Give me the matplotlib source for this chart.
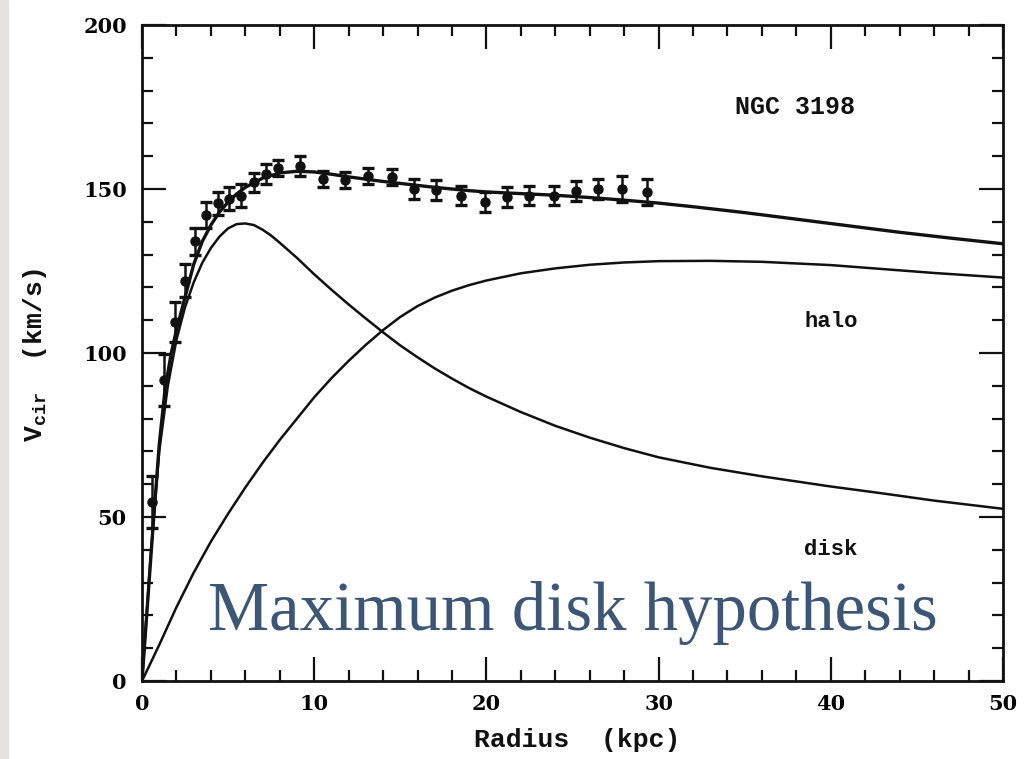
import numpy as np
import matplotlib.pyplot as plt
from matplotlib.patches import Rectangle

plt.rcParams['mathtext.fontset'] = 'custom'
plt.rcParams['mathtext.rm'] = 'Liberation Mono:bold'
plt.rcParams['mathtext.bf'] = 'Liberation Mono:bold'

# observed rotation curve (kpc, km/s)
r_obs = [0.58, 1.3, 1.92, 2.5, 3.1, 3.7, 4.4, 5.05, 5.75, 6.5, 7.2, 7.9,
         9.2, 10.5, 11.8, 13.1, 14.5, 15.8, 17.1, 18.5, 19.9, 21.2, 22.5,
         23.9, 25.2, 26.5, 27.9, 29.3]
v_obs = [54.6, 91.8, 109.5, 122.0, 134.0, 142.0, 145.7, 147.0, 148.0, 152.0,
         154.6, 156.4, 157.0, 153.0, 152.7, 154.0, 153.7, 150.0, 149.7, 148.0,
         146.0, 147.5, 148.0, 148.0, 149.4, 150.0, 150.0, 149.0]
e_obs = [8, 8, 6, 5, 4, 4, 3.5, 3.5, 3.5, 3, 3, 2.5, 3, 2.5, 2.5, 2.5, 2.5,
         3, 3, 3, 3, 3, 3, 3, 3, 3, 4, 4]

# model curves
r_tot = [0, 0.3, 0.64, 1.0, 1.34, 1.7, 2.0, 2.5, 3, 3.5, 4, 4.5, 5, 5.5, 6,
         7, 8, 9, 10, 11, 12, 13, 14, 15, 16, 17, 18, 19, 20, 22, 24, 26, 28,
         30, 32, 35, 38, 41, 44, 47, 50]
v_tot = [0, 22, 47, 72, 89, 100, 107, 117, 127, 134, 139, 143, 146, 148.5,
         150.5, 153.3, 154.9, 155.4, 155.2, 154.5, 153.7, 153, 152.3, 151.7,
         151.1, 150.5, 150, 149.5, 149.1, 148.6, 148.1, 147.4, 146.6, 145.7,
         144.6, 142.8, 140.8, 138.8, 136.8, 135, 133.3]

r_disk = [0, 0.5, 1, 1.5, 2, 2.5, 3, 3.5, 4, 4.5, 5, 5.5, 6, 6.5, 7, 7.5, 8,
          9, 10, 11, 12, 13, 14, 15, 16, 17, 18, 19, 20, 22, 24, 26, 28, 30,
          33, 36, 40, 43, 46, 50]
v_disk = [0, 38, 70, 90, 104, 114, 121.5, 127.5, 132, 135.5, 138, 139.3,
          139.5, 139, 137.6, 135.8, 133.6, 129, 124, 119.3, 114.8, 110.5,
          106.3, 102.3, 98.7, 95.3, 92.2, 89.3, 86.7, 82, 77.8, 74.2, 71,
          68.2, 65, 62.4, 59.3, 57.2, 55, 52.5]

r_halo = [0, 1, 2, 3, 4, 5, 6, 7, 8, 9, 10, 11, 12, 13, 14, 15, 16, 17, 18,
          19, 20, 22, 24, 26, 28, 30, 33, 36, 40, 43, 46, 50]
v_halo = [0, 11, 22.5, 33, 42.5, 51, 59, 66.5, 73.5, 80, 86.5, 92.3, 97.6,
          102.5, 107, 111, 114.3, 116.9, 119, 120.7, 122.1, 124.3, 125.8,
          126.9, 127.6, 128, 128.1, 127.8, 126.8, 125.6, 124.4, 123]

fig = plt.figure(figsize=(10.26, 7.59), dpi=100)
fig.patches.append(Rectangle((0, 0), 8 / 1026, 1, transform=fig.transFigure,
                             color='#e6e3dc', zorder=0))
ax = fig.add_axes([142 / 1026, 1 - 681 / 759, 861 / 1026, 656 / 759])

ink = '#111111'
ax.plot(r_tot, v_tot, color=ink, lw=2.4)
ax.plot(r_disk, v_disk, color=ink, lw=1.8)
ax.plot(r_halo, v_halo, color=ink, lw=1.8)
ax.errorbar(r_obs, v_obs, yerr=e_obs, fmt='o', color=ink, ms=6.5,
            elinewidth=1.8, capsize=4, capthick=2.4)

ax.set_xlim(0, 50)
ax.set_ylim(0, 200)
ax.set_xticks(np.arange(0, 51, 10))
ax.set_xticks(np.arange(0, 51, 2), minor=True)
ax.set_yticks(np.arange(0, 201, 50))
ax.set_yticks(np.arange(0, 201, 10), minor=True)
ax.tick_params(which='both', direction='in', top=True, right=True,
               width=1.6, color=ink)
ax.tick_params(which='major', length=17, labelsize=15)
ax.tick_params(axis='y', which='major', pad=11)
ax.tick_params(axis='x', which='major', pad=9)
ax.tick_params(which='minor', length=8)
for lab in ax.get_xticklabels() + ax.get_yticklabels():
    lab.set_fontfamily('DejaVu Serif')
    lab.set_fontweight('bold')
for s in ax.spines.values():
    s.set_linewidth(2.0)
    s.set_color(ink)

mono = dict(family='Liberation Mono', weight='bold', color=ink)
ax.set_xlabel('Radius  (kpc)', fontsize=19, **mono)
ax.xaxis.set_label_coords(0.506, -0.072)
ax.set_ylabel(r'V$_{\rm cir}$  (km/s)', fontsize=19, **mono)
ax.yaxis.set_label_coords(-0.108, 0.497)

ax.text(37.9, 175, 'NGC 3198', fontsize=18, ha='center', va='center', **mono)
ax.text(40.0, 109.5, 'halo', fontsize=16, ha='center', va='center', **mono)
ax.text(40.0, 40.2, 'disk', fontsize=16, ha='center', va='center', **mono)

ax.text(0.5, 0.078, 'Maximum disk hypothesis', transform=ax.transAxes,
        fontsize=49.5, family='Liberation Serif', color='#3e5675',
        ha='center', va='baseline')

fig.savefig('out.png', dpi=100)
